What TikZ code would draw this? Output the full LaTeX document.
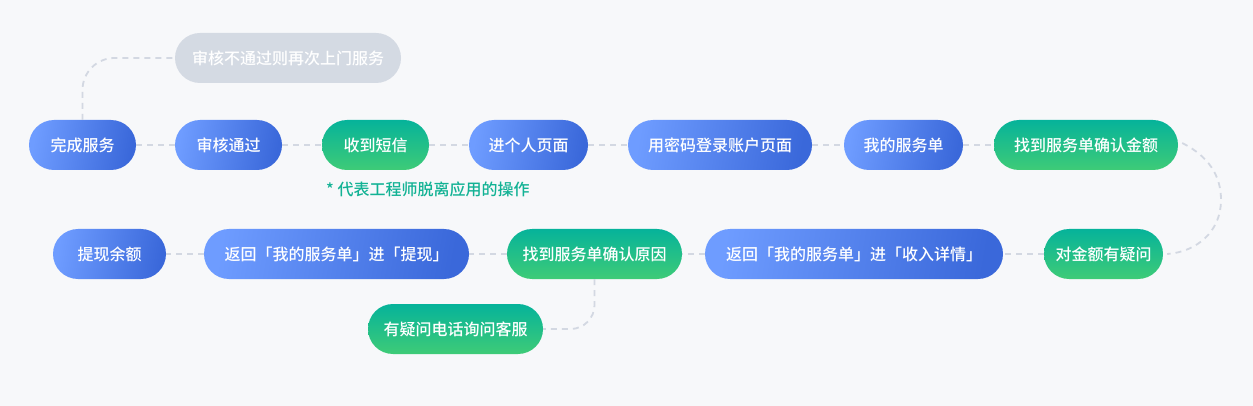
\documentclass[tikz,border=0pt]{standalone}
\usepackage{fontspec}
\setmainfont{Noto Sans CJK SC}
\newfontfamily\medfont{Noto Sans CJK SC Medium}
\definecolor{bg}{HTML}{F7F8FA}
\definecolor{blA}{HTML}{6E9CFF}
\definecolor{blB}{HTML}{3A68DA}
\definecolor{grA}{HTML}{06B39A}
\definecolor{grB}{HTML}{3ECB77}
\definecolor{grayfill}{HTML}{D4DAE3}
\definecolor{dashc}{HTML}{D3D8E2}
\definecolor{notec}{HTML}{12B294}
\begin{document}
\begin{tikzpicture}[x=1pt,y=-1pt,
  pill/.style={rounded corners=25pt, minimum height=50pt, inner sep=0pt, text=white, font=\medfont\fontsize{16}{18}\selectfont},
  bluen/.style={pill, left color=blA, right color=blB, shading angle=80},
  greenn/.style={pill, top color=grA, bottom color=grB},
  grayn/.style={pill, fill=grayfill},
  conn/.style={draw=dashc, line width=1.8pt, dash pattern=on 6pt off 5pt}]
\fill[bg] (0,0) rectangle (1253,406);
\useasboundingbox (0,0) rectangle (1253,406);

% row 1
\node[bluen, minimum width=107pt] (n1) at (82.5,145) {完成服务};
\node[bluen, minimum width=107pt] (n2) at (228.5,145) {审核通过};
\node[greenn, minimum width=107pt] (n3) at (375.5,145) {收到短信};
\node[bluen, minimum width=119pt] (n4) at (528.5,145) {进个人页面};
\node[bluen, minimum width=184pt] (n5) at (720,145) {用密码登录账户页面};
\node[bluen, minimum width=119pt] (n6) at (903.5,145) {我的服务单};
\node[greenn, minimum width=184pt] (n7) at (1086,145) {找到服务单确认金额};
\node[grayn, minimum width=226pt] (top) at (288,58) {审核不通过则再次上门服务};

\node[text=notec, font=\medfont\fontsize{16}{18}\selectfont, anchor=west, inner sep=0pt] (note) at (326,189) {* 代表工程师脱离应用的操作};

% row 2
\node[bluen, minimum width=113pt] (m1) at (109.5,254) {提现余额};
\node[bluen, minimum width=265pt] (m2) at (336.5,254) {返回「我的服务单」进「提现」};
\node[greenn, minimum width=175pt] (m3) at (594.5,254) {找到服务单确认原因};
\node[bluen, minimum width=298pt] (m4) at (854,254) {返回「我的服务单」进「收入详情」};
\node[greenn, minimum width=119pt] (m5) at (1103.5,254) {对金额有疑问};
\node[greenn, minimum width=175pt] (b1) at (455.5,329) {有疑问电话询问客服};

% connectors
\draw[conn] (n1.east) -- (n2.west);
\draw[conn] (n2.east) -- (n3.west);
\draw[conn] (n3.east) -- (n4.west);
\draw[conn] (n4.east) -- (n5.west);
\draw[conn] (n5.east) -- (n6.west);
\draw[conn] (n6.east) -- (n7.west);
\draw[conn, rounded corners=32pt] (n1.north) |- (top.west);
\coordinate (rc) at (1221,200);
\draw[conn] ([xshift=4pt,yshift=2pt]n7.east) .. controls (1208,156) and (1221,175) .. (rc)
  .. controls (1221,232) and (1196,252) .. ([xshift=4pt]m5.east);
\draw[conn] (m5.west) -- (m4.east);
\draw[conn] (m4.west) -- (m3.east);
\draw[conn] (m3.west) -- (m2.east);
\draw[conn] (m2.west) -- (m1.east);
\draw[conn, rounded corners=24pt] (m3.south) |- (b1.east);
\end{tikzpicture}
\end{document}
